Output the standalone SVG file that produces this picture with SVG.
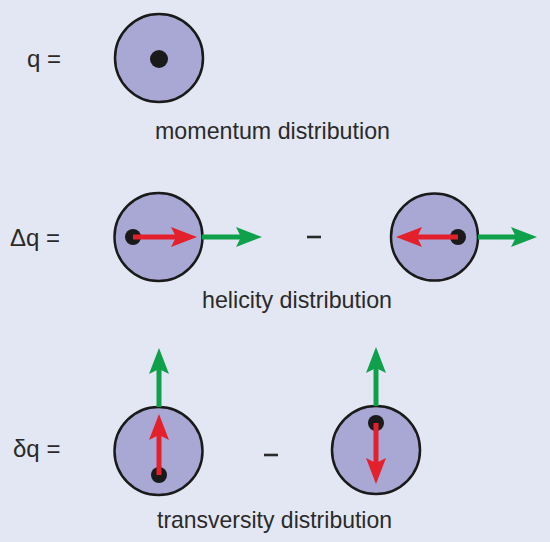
<svg xmlns="http://www.w3.org/2000/svg" width="550" height="542" viewBox="0 0 550 542">
<style>
.bg{fill:#e3e7f3}
.ball{fill:#a9a8d5;stroke:#1a1a1a;stroke-width:2.5}
.dot{fill:#1a1a1a}
.t{font-family:"Liberation Sans",Arial,sans-serif;font-size:24px;fill:#2a2a2a}
.red{stroke:#e3202b;stroke-width:5;fill:none}
.grn{stroke:#0ea04b;stroke-width:5;fill:none}
.minus{stroke:#2a2a2a;stroke-width:2.6}
</style>
<defs>
<marker id="ar" markerUnits="userSpaceOnUse" viewBox="0 0 26 20" markerWidth="26" markerHeight="20" refX="5" refY="10" orient="auto">
<path d="M0,0 L26,10 L0,20 L5,10 z" fill="#e3202b"/>
</marker>
<marker id="ag" markerUnits="userSpaceOnUse" viewBox="0 0 26 20" markerWidth="26" markerHeight="20" refX="5" refY="10" orient="auto">
<path d="M0,0 L26,10 L0,20 L5,10 z" fill="#0ea04b"/>
</marker>
</defs>
<rect class="bg" x="0" y="0" width="550" height="542"/>

<g id="labels">
<text class="t" x="27" y="67">q =</text>
<text class="t" x="10" y="246">Δq =</text>
<text class="t" x="13" y="457">δq =</text>
<text class="t" x="155" y="139" textLength="235" lengthAdjust="spacingAndGlyphs">momentum distribution</text>
<text class="t" x="202" y="308" textLength="190" lengthAdjust="spacingAndGlyphs">helicity distribution</text>
<text class="t" x="157" y="528" textLength="235" lengthAdjust="spacingAndGlyphs">transversity distribution</text>
<line class="minus" x1="307" y1="237" x2="321" y2="237"/>
<line class="minus" x1="264" y1="455" x2="278" y2="455"/>
</g>

<g id="q">
<circle class="ball" cx="159" cy="58" r="44"/>
<circle class="dot" cx="159" cy="59" r="9"/>
</g>
<g id="dq-left">
<circle class="ball" cx="158.5" cy="237" r="44"/>
<circle class="dot" cx="133" cy="237" r="8"/>
</g>
<g id="dq-right">
<circle class="ball" cx="434.5" cy="237" r="43.5"/>
<circle class="dot" cx="458" cy="237" r="8"/>
</g>
<g id="tq-left">
<circle class="ball" cx="158.5" cy="451" r="44"/>
<circle class="dot" cx="159" cy="475" r="8"/>
</g>
<g id="tq-right">
<circle class="ball" cx="376" cy="450" r="44"/>
<circle class="dot" cx="376" cy="423" r="8"/>
</g>

<g id="connectors">
<line class="red" x1="133" y1="237" x2="176" y2="237" marker-end="url(#ar)"/>
<line class="grn" x1="202" y1="237" x2="241" y2="237" marker-end="url(#ag)"/>
<line class="red" x1="458" y1="237" x2="417" y2="237" marker-end="url(#ar)"/>
<line class="grn" x1="478" y1="237" x2="516" y2="237" marker-end="url(#ag)"/>
<line class="red" x1="159" y1="475" x2="159" y2="435" marker-end="url(#ar)"/>
<line class="grn" x1="159" y1="407" x2="159" y2="369" marker-end="url(#ag)"/>
<line class="red" x1="376" y1="423" x2="376" y2="463" marker-end="url(#ar)"/>
<line class="grn" x1="376" y1="406" x2="376" y2="368" marker-end="url(#ag)"/>
</g>
</svg>
